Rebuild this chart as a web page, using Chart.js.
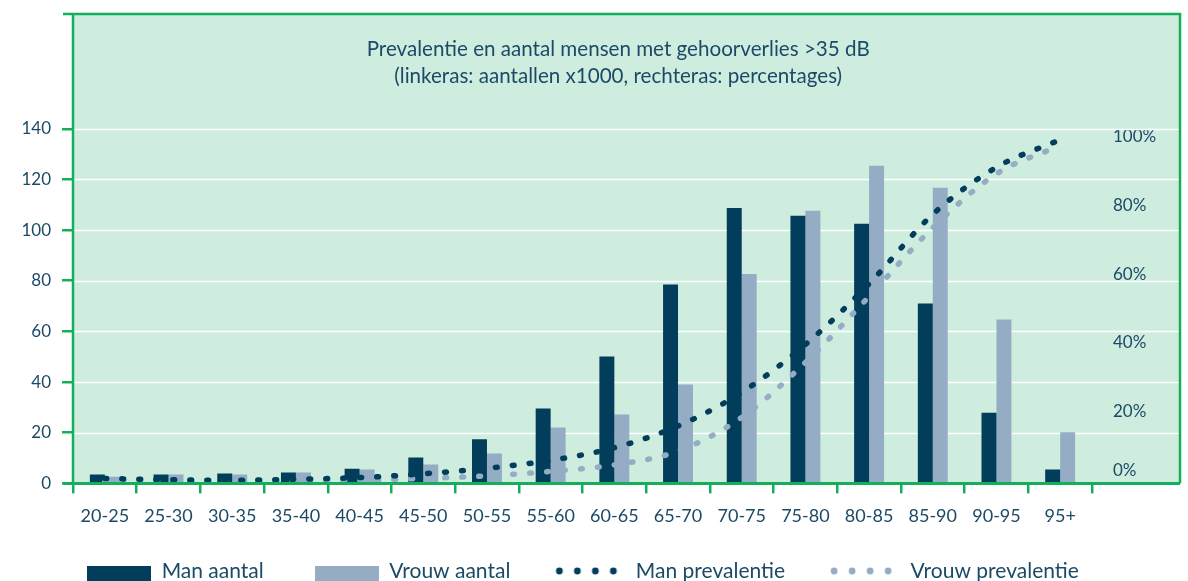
<!DOCTYPE html>
<html>
<head>
<meta charset="utf-8">
<script src="https://cdn.jsdelivr.net/npm/chart.js@4.4.1/dist/chart.umd.min.js"></script>
<style>
  html, body { margin: 0; padding: 0; background: #ffffff; overflow: hidden; }
  #wrap { width: 1188px; height: 623px; }
</style>
</head>
<body>
<div id="wrap"><canvas id="chart" width="1188" height="623"></canvas></div>
<script>
// Data
const ageGroups = ['20-25', '25-30', '30-35', '35-40', '40-45', '45-50', '50-55', '55-60',
                   '60-65', '65-70', '70-75', '75-80', '80-85', '85-90', '90-95', '95+'];
const manAantal   = [3.5, 3.5, 3.9, 4.3, 5.8, 10.2, 17.4, 29.6, 50.1, 78.5, 108.7, 105.7, 102.5, 71, 27.9, 5.5];
const vrouwAantal = [2.6, 3.5, 3.5, 4.3, 5.5, 7.5, 11.8, 22.1, 27.2, 39, 82.7, 107.6, 125.4, 116.7, 64.7, 20.2];
const manPrev     = [1.4, 1.1, 0.9, 1.2, 1.7, 2.8, 4.4, 6.7, 10.4, 16.7, 26.5, 40.4, 58.1, 78.3, 92, 100];
const vrouwPrev   = [0.6, 0.6, 0.6, 0.7, 0.9, 1.45, 2.2, 3.5, 5.4, 9.4, 19.2, 35.2, 54.4, 74.4, 90.1, 98.3];
const leftTicksMax = 140;
const rightTicksMax = 100;
const titleLines = ['Prevalentie en aantal mensen met gehoorverlies >35 dB',
                    '(linkeras: aantallen x1000, rechteras: percentages)'];
const seriesNames = ['Man aantal', 'Vrouw aantal', 'Man prevalentie', 'Vrouw prevalentie'];

const DARK = '#023d5b';
const LIGHT = '#94adc5';
const BG = '#ceeddf';
const GREEN = '#13b05c';
const TEXT = '#1c4a66';
const FONT = 'Lato';
const LEGEND_SIZE = 21;
const LEGEND_PAD = 51;

// legend swatches
function swatch(color, kind) {
  const c = document.createElement('canvas');
  const g = c.getContext('2d');
  if (kind === 'bar') {
    c.width = 64; c.height = 26;
    g.fillStyle = color;
    g.fillRect(0, 8, 64, 18);
  } else {
    c.width = 80; c.height = 26;
    g.fillStyle = color;
    for (let i = 0; i < 4; i++) {
      g.beginPath();
      g.arc(6 + i * 18, 13, 3.4, 0, Math.PI * 2);
      g.fill();
    }
  }
  return c;
}
const swatches = [swatch(DARK, 'bar'), swatch(LIGHT, 'bar'), swatch(DARK, 'dot'), swatch(LIGHT, 'dot')];

function noPad(scale) {
  scale.paddingTop = 0;
  scale.paddingBottom = 0;
}

const framePlugin = {
  id: 'frame',
  afterLayout(chart) {
    // pull the legend up so that its row sits where the reference has it
    const l = chart.legend;
    const wantedTop = 571 - LEGEND_PAD - LEGEND_SIZE / 2;
    const dy = l.top - wantedTop;
    l.top -= dy;
    l.bottom -= dy;
    l.left -= 7;
    l.right -= 7;
  },
  beforeDraw(chart) {
    const { ctx, chartArea: a, scales } = chart;
    const right = scales.y1.right;
    ctx.save();
    ctx.fillStyle = BG;
    ctx.fillRect(a.left, a.top, right - a.left, a.bottom - a.top);
    ctx.restore();
  },
  beforeDatasetsDraw(chart) {
    const { ctx, chartArea: a, scales } = chart;
    const right = scales.y1.right;
    ctx.save();
    // white grid lines across the whole frame
    ctx.strokeStyle = '#ffffff';
    ctx.lineWidth = 1.5;
    scales.y.ticks.forEach(t => {
      if (t.value === 0) return;
      const y = Math.round(scales.y.getPixelForValue(t.value)) + 0.5;
      ctx.beginPath();
      ctx.moveTo(a.left, y);
      ctx.lineTo(right, y);
      ctx.stroke();
    });
    // title inside the frame
    ctx.fillStyle = TEXT;
    ctx.font = '20.6px ' + FONT;
    ctx.textAlign = 'center';
    ctx.textBaseline = 'middle';
    const cx = a.left + (right - a.left) * 0.4925;
    titleLines.forEach((line, i) => ctx.fillText(line, cx, a.top + 35 + i * 27));
    ctx.restore();
  },
  afterDatasetsDraw(chart) {
    const { ctx, chartArea: a, scales } = chart;
    const right = scales.y1.right;
    ctx.save();
    ctx.strokeStyle = GREEN;
    ctx.lineWidth = 2.5;
    ctx.beginPath();
    ctx.moveTo(a.left - 10, a.top);
    ctx.lineTo(right, a.top);
    ctx.lineTo(right, a.bottom);
    ctx.moveTo(a.left, a.top);
    ctx.lineTo(a.left, a.bottom);
    ctx.stroke();
    ctx.lineWidth = 3;
    ctx.beginPath();
    ctx.moveTo(a.left - 10, a.bottom);
    ctx.lineTo(right, a.bottom);
    ctx.stroke();
    ctx.restore();
  }
};

const ctx = document.getElementById('chart').getContext('2d');
new Chart(ctx, {
  data: {
    labels: ageGroups,
    datasets: [
      { type: 'bar', label: seriesNames[0], data: manAantal, backgroundColor: DARK,
        yAxisID: 'y', order: 2, barPercentage: 1, categoryPercentage: 0.47 },
      { type: 'bar', label: seriesNames[1], data: vrouwAantal, backgroundColor: LIGHT,
        yAxisID: 'y', order: 2, barPercentage: 1, categoryPercentage: 0.47 },
      { type: 'line', label: seriesNames[2], data: manPrev, borderColor: DARK, yAxisID: 'y1', order: 0,
        borderWidth: 5.5, borderDash: [1.8, 15.2], borderCapStyle: 'round', pointRadius: 0,
        cubicInterpolationMode: 'monotone', fill: false },
      { type: 'line', label: seriesNames[3], data: vrouwPrev, borderColor: LIGHT, yAxisID: 'y1', order: 1,
        borderWidth: 5.5, borderDash: [1.8, 15.2], borderCapStyle: 'round', pointRadius: 0,
        cubicInterpolationMode: 'monotone', fill: false }
    ]
  },
  options: {
    responsive: false,
    animation: false,
    layout: { padding: { left: 0, right: 8, top: 14, bottom: 2 } },
    scales: {
      x: {
        offset: true,
        grid: { offset: true, drawOnChartArea: false, color: GREEN, tickColor: GREEN, tickLength: 10, lineWidth: 2.5 },
        border: { display: false },
        ticks: { color: TEXT, font: { family: FONT, size: 18 }, padding: 12, maxRotation: 0, autoSkip: false },
        afterFit(scale) { scale.paddingLeft = 0; scale.paddingRight = 0; }
      },
      y: {
        position: 'left',
        min: 0,
        max: 185.3,
        afterBuildTicks(scale) {
          scale.ticks = scale.ticks.filter(t => t.value <= leftTicksMax);
        },
        grid: { drawOnChartArea: false, tickColor: GREEN, tickLength: 11, lineWidth: 2.5 },
        border: { display: false },
        ticks: { stepSize: 20, color: TEXT, font: { family: FONT, size: 17 }, padding: 11 },
        afterFit(scale) { scale.width = 73; noPad(scale); }
      },
      y1: {
        position: 'right',
        min: 0,
        max: 136.6,
        afterBuildTicks(scale) {
          scale.ticks = scale.ticks.filter(t => t.value <= rightTicksMax);
        },
        grid: { display: false, drawTicks: false },
        border: { display: false },
        ticks: { stepSize: 20, color: TEXT, font: { family: FONT, size: 17 }, padding: 21, labelOffset: -3,
                 // the 0% label sits a little above the axis line in the reference
                 callback: v => (v === 0 ? ['0%', ''] : v + '%') },
        afterFit(scale) { scale.width = 88; noPad(scale); }
      }
    },
    plugins: {
      tooltip: { enabled: false },
      legend: {
        position: 'bottom',
        labels: {
          usePointStyle: true,
          pointStyleWidth: 64,
          padding: LEGEND_PAD,
          color: TEXT,
          font: { family: FONT, size: LEGEND_SIZE },
          generateLabels(chart) {
            return chart.data.datasets.map((ds, i) => ({
              text: ds.label,
              pointStyle: swatches[i],
              fillStyle: ds.backgroundColor || ds.borderColor,
              strokeStyle: 'transparent',
              lineWidth: 0,
              fontColor: TEXT,
              hidden: false,
              datasetIndex: i
            }));
          }
        }
      }
    }
  },
  plugins: [framePlugin]
});
</script>
</body>
</html>
